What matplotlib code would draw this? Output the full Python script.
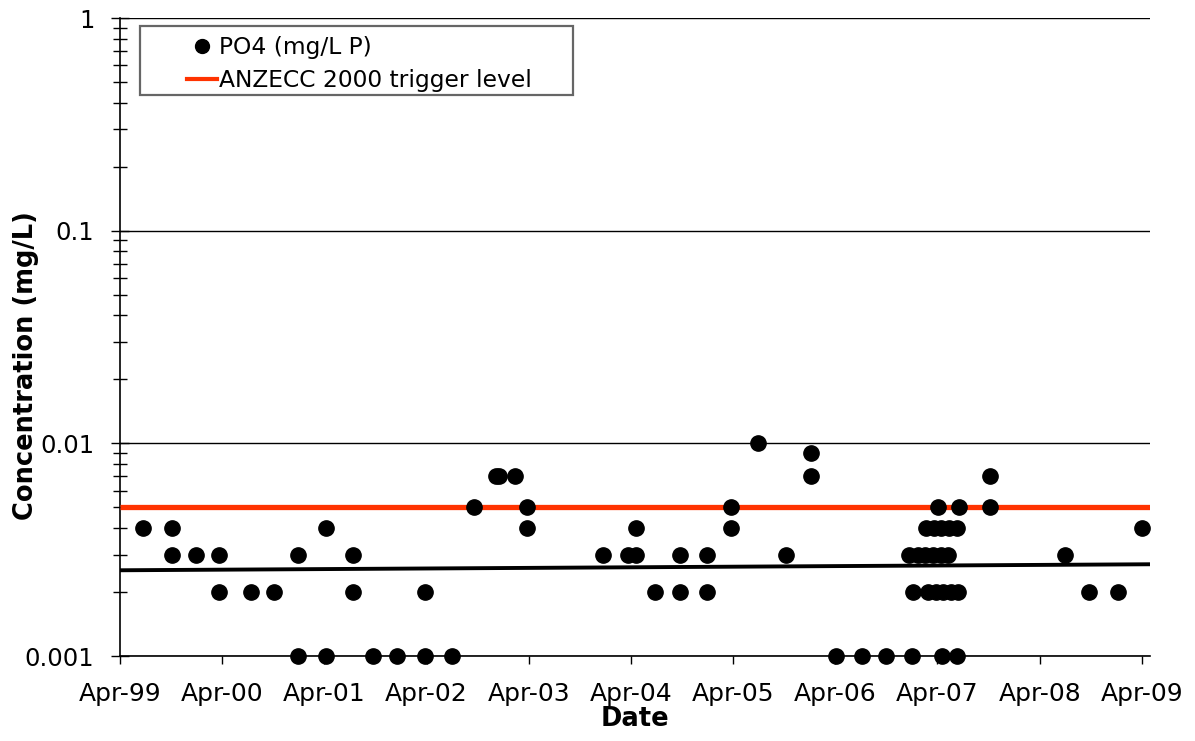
import matplotlib
matplotlib.use("Agg")
import matplotlib.pyplot as plt
import matplotlib.dates as mdates
from matplotlib.ticker import FixedLocator, LogLocator, NullFormatter, FixedFormatter
from matplotlib.patches import Rectangle
from matplotlib.lines import Line2D
import pandas as pd

plt.rcParams['font.family'] = ['DejaVu Sans']

# ---- data ----
sample_dates = [
    '1999-06-22', '1999-10-04', '1999-10-04', '1999-12-29', '2000-03-20', '2000-03-20',
    '2000-07-12', '2000-10-02', '2000-12-27', '2000-12-27', '2001-04-06', '2001-04-06',
    '2001-07-12', '2001-07-12', '2001-09-21', '2001-12-16', '2002-03-26', '2002-03-26',
    '2002-07-01', '2002-09-17', '2002-12-05', '2002-12-16', '2003-02-11', '2003-03-26',
    '2003-03-26', '2003-12-22', '2004-03-21', '2004-04-18', '2004-04-18', '2004-06-25',
    '2004-09-23', '2004-09-23', '2004-12-28', '2004-12-28', '2005-03-24', '2005-03-24',
    '2005-06-28', '2005-10-07', '2006-01-04', '2006-01-04', '2006-04-03', '2006-07-05',
    '2006-09-29', '2006-12-31',
    '2006-12-20', '2007-01-21', '2007-02-15', '2007-03-16', '2007-04-14', '2007-05-09',
    '2007-01-03', '2007-02-26', '2007-03-27', '2007-04-21', '2007-05-19', '2007-06-13',
    '2007-02-19', '2007-03-20', '2007-04-14', '2007-05-12', '2007-06-10',
    '2007-04-03', '2007-06-17',
    '2007-04-17', '2007-06-10',
    '2007-10-06', '2007-10-06', '2008-07-01', '2008-09-25', '2009-01-06', '2009-04-01',
]
po4_values = [
    0.004, 0.004, 0.003, 0.003, 0.003, 0.002,
    0.002, 0.002, 0.003, 0.001, 0.004, 0.001,
    0.003, 0.002, 0.001, 0.001, 0.002, 0.001,
    0.001, 0.005, 0.007, 0.007, 0.007, 0.005,
    0.004, 0.003, 0.003, 0.003, 0.004, 0.002,
    0.003, 0.002, 0.003, 0.002, 0.005, 0.004,
    0.010, 0.003, 0.009, 0.007, 0.001, 0.001,
    0.001, 0.001,
    0.003, 0.003, 0.003, 0.003, 0.003, 0.003,
    0.002, 0.002, 0.002, 0.002, 0.002, 0.002,
    0.004, 0.004, 0.004, 0.004, 0.004,
    0.005, 0.005,
    0.001, 0.001,
    0.007, 0.005, 0.003, 0.002, 0.002, 0.004,
]
axis_dates = ['1999-04-01', '2009-04-30']
trigger_level = [0.005, 0.005]
trend_values = [0.00253, 0.00270]
y_ticks = [0.001, 0.01, 0.1, 1]
y_tick_labels = ['0.001', '0.01', '0.1', '1']

# ---- figure ----
W, H = 1195, 741
fig = plt.figure(figsize=(W / 100, H / 100), dpi=100)
ax = fig.add_axes([120 / W, 1 - 656 / H, (1150 - 120) / W, (656 - 18) / H])

dates = pd.to_datetime(sample_dates)
adates = pd.to_datetime(axis_dates)

ax.set_yscale('log')
ax.set_ylim(0.001, 1)
ax.set_xlim(adates[0], adates[1])

ax.yaxis.set_major_locator(FixedLocator(y_ticks))
ax.yaxis.set_major_formatter(FixedFormatter(y_tick_labels))
ax.yaxis.set_minor_locator(LogLocator(base=10, subs=[2, 3, 4, 5, 6, 7, 8, 9], numticks=20))
ax.yaxis.set_minor_formatter(NullFormatter())
ax.grid(True, which='major', axis='y', color='black', linewidth=1.0)
ax.set_axisbelow(True)

ax.xaxis.set_major_locator(mdates.YearLocator(base=1, month=4, day=1))
ax.xaxis.set_major_formatter(mdates.DateFormatter('%b-%y'))

for s in ['top', 'right']:
    ax.spines[s].set_visible(False)
for s in ['left', 'bottom']:
    ax.spines[s].set_color('black')
    ax.spines[s].set_linewidth(1.2)

ax.tick_params(axis='y', which='major', direction='inout', length=13, width=1.0,
               labelsize=17.5, pad=12)
ax.tick_params(axis='y', which='minor', direction='inout', length=10, width=1.0)
ax.tick_params(axis='x', which='major', direction='out', length=6, width=1.0,
               labelsize=18, pad=13)

ax.plot(adates, trigger_level, color='#ff3300', linewidth=3.8, zorder=3,
        solid_capstyle='butt')
ax.plot(adates, trend_values, color='black', linewidth=2.8, zorder=3,
        solid_capstyle='butt')
ax.plot(dates, po4_values, linestyle='none', marker='o', markersize=11,
        color='black', zorder=4, clip_on=False)

ax.set_xlabel('Date', fontsize=18.5, fontweight='bold', labelpad=0)
ax.set_ylabel('Concentration (mg/L)', fontsize=18.5, fontweight='bold')
ax.yaxis.set_label_coords(-0.0786, 0.456)

h_pt = Line2D([], [], linestyle='none', marker='o', markersize=10, color='black')
h_ln = Line2D([], [], color='#ff3300', linewidth=3.0)
leg = fig.legend([h_pt, h_ln], ['PO4 (mg/L P)', 'ANZECC 2000 trigger level'],
                 loc='upper left', bbox_to_anchor=(187 / W, 1 - 36 / H),
                 frameon=False, fontsize=16.8, handlelength=1.29, handletextpad=0.09,
                 labelspacing=0.42, borderpad=0, borderaxespad=0)
fig.patches.append(Rectangle((140 / W, 1 - 95 / H), (573 - 140) / W, (95 - 26) / H,
                             transform=fig.transFigure, fill=True, facecolor='white',
                             edgecolor='#666666', linewidth=1.6, zorder=5))
leg.set_zorder(6)

fig.savefig('out.png', dpi=100)
